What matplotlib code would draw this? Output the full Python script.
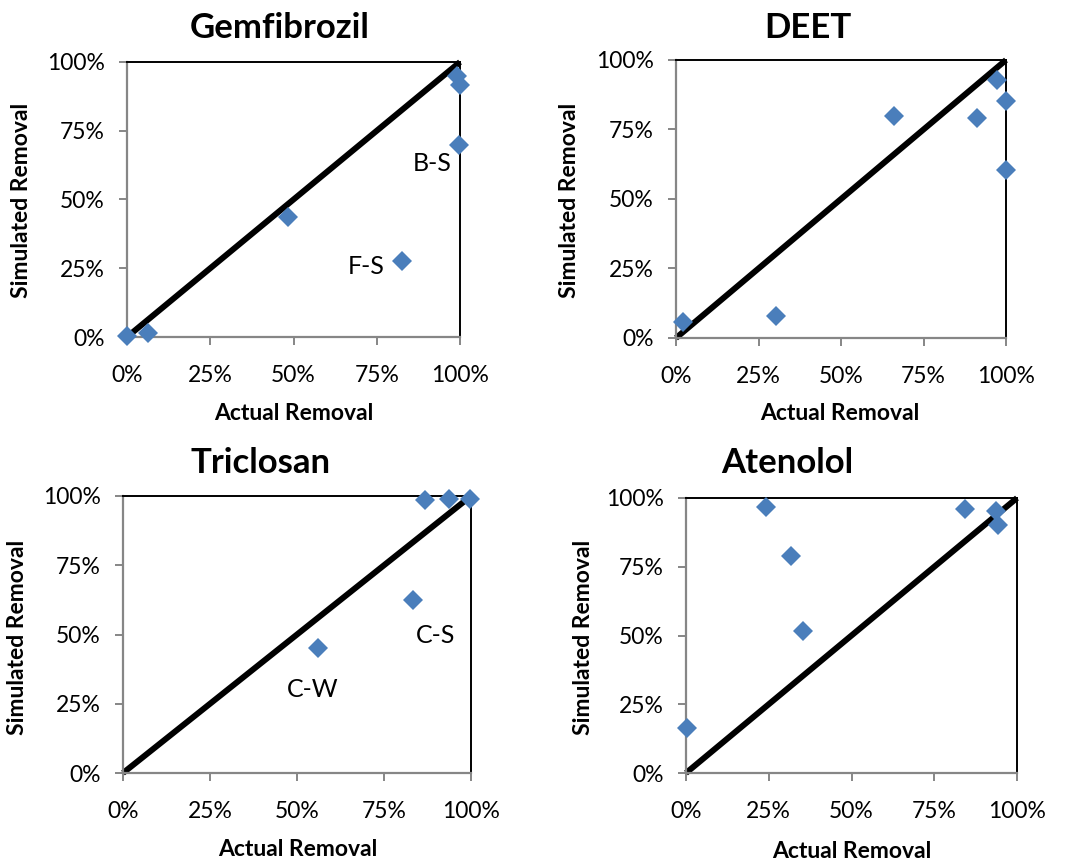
import matplotlib
matplotlib.use("Agg")
import matplotlib.pyplot as plt
from matplotlib.ticker import FixedLocator

plt.rcParams['font.family'] = ['Lato', 'DejaVu Sans']

# ---- data (fractions) ----
titles = ["Gemfibrozil", "DEET", "Triclosan", "Atenolol"]

gem_actual = [0.000, 0.063, 0.482, 0.825, 0.990, 1.000, 0.998]
gem_sim    = [0.003, 0.016, 0.437, 0.275, 0.949, 0.916, 0.698]

deet_actual = [0.020, 0.303, 0.660, 0.912, 0.973, 1.000, 1.000]
deet_sim    = [0.058, 0.079, 0.799, 0.791, 0.927, 0.853, 0.605]

tric_actual = [0.561, 0.832, 0.869, 0.938, 0.996]
tric_sim    = [0.453, 0.623, 0.987, 0.988, 0.989]

aten_actual = [0.004, 0.241, 0.317, 0.354, 0.844, 0.936, 0.942]
aten_sim    = [0.163, 0.967, 0.790, 0.516, 0.959, 0.952, 0.902]

ticks = [0, 0.25, 0.5, 0.75, 1.0]
tick_labels = ["0%", "25%", "50%", "75%", "100%"]

gem_notes = [("B-S", 0.915, 0.631), ("F-S", 0.717, 0.255)]
tric_notes = [("C-W", 0.545, 0.300), ("C-S", 0.897, 0.498)]
deet_notes = []
aten_notes = []

series = [
    (gem_actual, gem_sim, gem_notes),
    (deet_actual, deet_sim, deet_notes),
    (tric_actual, tric_sim, tric_notes),
    (aten_actual, aten_sim, aten_notes),
]

# ---- layout (pixels) ----
W, H = 1065, 863
boxes = [  # left, top, right, bottom
    (127, 62, 460, 337),
    (676, 60, 1006, 338),
    (123, 496, 471, 773),
    (686, 498, 1017, 773),
]
title_pos = [(280, 28), (808, 28), (261, 463), (787, 463)]
xlabel_pos = [(294, 414), (840, 414), (298, 849), (852, 851)]
ylabel_pos = [(22, 200), (570, 200), (18, 637), (583, 637)]

blue = "#4A7EBB"
gray = "#868686"

fig = plt.figure(figsize=(W / 100, H / 100), dpi=100)

for i, (ax_x, ax_y, notes) in enumerate(series):
    l, t, r, b = boxes[i]
    ax = fig.add_axes([l / W, 1 - b / H, (r - l) / W, (b - t) / H])
    ax.set_xlim(0, 1)
    ax.set_ylim(0, 1)
    ax.plot([0, 1], [0, 1], color="black", lw=4.3, solid_capstyle="butt",
            zorder=2, clip_on=False)
    ax.plot(ax_x, ax_y, linestyle="none", marker="D", ms=10, color=blue,
            markeredgewidth=0, zorder=4, clip_on=False)
    for txt, nx, ny in notes:
        ax.text(nx, ny, txt, ha="center", va="center", fontsize=18, color="black")
    ax.xaxis.set_major_locator(FixedLocator(ticks))
    ax.yaxis.set_major_locator(FixedLocator(ticks))
    ax.set_xticklabels(tick_labels)
    ax.set_yticklabels(tick_labels)
    for side in ("left", "bottom"):
        ax.spines[side].set_color(gray)
        ax.spines[side].set_linewidth(1.6)
    for side in ("top", "right"):
        ax.spines[side].set_color("black")
        ax.spines[side].set_linewidth(1.4)
    ax.tick_params(axis="both", direction="out", length=6, width=1.4,
                   color=gray, labelsize=16.5, labelcolor="black")
    ax.tick_params(axis="x", pad=14)
    ax.tick_params(axis="y", pad=10)
    fig.text(title_pos[i][0] / W, 1 - title_pos[i][1] / H, titles[i],
             ha="center", va="center", fontsize=25, fontweight="bold")
    fig.text(xlabel_pos[i][0] / W, 1 - xlabel_pos[i][1] / H, "Actual Removal",
             ha="center", va="center", fontsize=16.5, fontweight="bold")
    fig.text(ylabel_pos[i][0] / W, 1 - ylabel_pos[i][1] / H, "Simulated Removal",
             ha="center", va="center", fontsize=16.5, fontweight="bold",
             rotation=90)

fig.savefig("out.png", dpi=100)
